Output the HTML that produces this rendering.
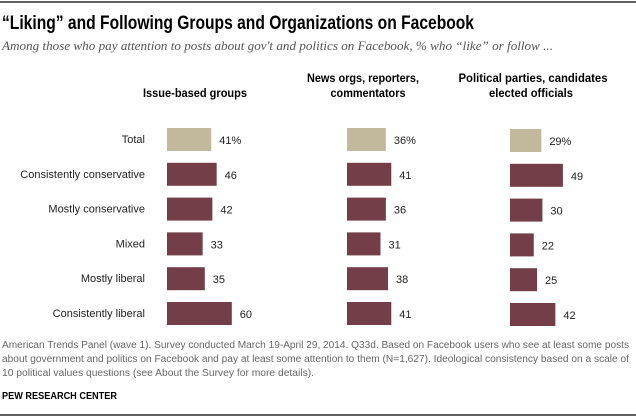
<!DOCTYPE html>
<html><head><meta charset="utf-8"><style>
html,body{margin:0;padding:0;background:#fff;}
svg{display:block;font-family:"Liberation Sans",sans-serif;}
</style></head><body>
<svg id="chart" width="636" height="418" viewBox="0 0 636 418">
<line x1="0" y1="2" x2="636" y2="2" stroke="#000" stroke-width="1.2"/>
<text x="2" y="29" font-size="19" font-weight="bold" textLength="472" lengthAdjust="spacingAndGlyphs">“Liking” and Following Groups and Organizations on Facebook</text>
<text x="2" y="50" font-size="13" font-style="italic" fill="#555" font-family="Liberation Serif, serif" textLength="551" lengthAdjust="spacingAndGlyphs">Among those who pay attention to posts about gov't and politics on Facebook, % who “like” or follow ...</text>
<g font-size="12" font-weight="bold" text-anchor="middle">
<text x="195" y="97" textLength="104" lengthAdjust="spacingAndGlyphs">Issue-based groups</text>
<text x="363" y="82" textLength="112" lengthAdjust="spacingAndGlyphs">News orgs, reporters,</text>
<text x="368" y="97" textLength="75" lengthAdjust="spacingAndGlyphs">commentators</text>
<text x="533" y="82" textLength="149" lengthAdjust="spacingAndGlyphs">Political parties, candidates</text>
<text x="531" y="97" textLength="84" lengthAdjust="spacingAndGlyphs">elected officials</text>
</g>
<g id="rows"></g>
<g font-size="10" fill="#666">
<text x="2" y="348" textLength="627" lengthAdjust="spacingAndGlyphs">American Trends Panel (wave 1). Survey conducted March 19-April 29, 2014. Q33d.  Based on Facebook users who see at least some posts</text>
<text x="2" y="362" textLength="627" lengthAdjust="spacingAndGlyphs">about government and politics on Facebook and pay at least some attention to them (N=1,627). Ideological consistency based on a scale of</text>
<text x="2" y="376" textLength="312" lengthAdjust="spacingAndGlyphs">10 political values questions (see About the Survey for more details).</text>
</g>
<text x="2" y="399" font-size="10" font-weight="bold" textLength="115" lengthAdjust="spacingAndGlyphs">PEW RESEARCH CENTER</text>
<line x1="0" y1="415" x2="636" y2="415" stroke="#000" stroke-width="1.2"/>
</svg>
<script>
const categories = ["Total","Consistently conservative","Mostly conservative","Mixed","Mostly liberal","Consistently liberal"];
const issueGroups = [41,46,42,33,35,60];
const newsOrgs = [36,41,36,31,38,41];
const politicalParties = [29,49,30,22,25,42];
const seriesNames = ["issue-groups","news-orgs","political-parties"];

const NS = "http://www.w3.org/2000/svg";
const g = document.getElementById("rows");
const scale = v => v * 1.08;
const rowY = i => 128 + i * 34.8;
const cols = [{x0:167, data:issueGroups, dy:0},{x0:347, data:newsOrgs, dy:0},{x0:510, data:politicalParties, dy:1}];
function mk(tag, attrs){const e=document.createElementNS(NS,tag);for(const k in attrs)e.setAttribute(k,attrs[k]);return e;}
categories.forEach((c,i)=>{
  const t = mk("text",{x:145,y:rowY(i)+15,"font-size":11,"text-anchor":"end",fill:"#222"});
  t.textContent = c;
  
  
  g.appendChild(t);
  cols.forEach((col,j)=>{
    const v = col.data[i];
    const y = rowY(i)+col.dy;
    const r = mk("rect",{x:col.x0,y:y,width:scale(v),height:23,fill:i===0?"#c2b99c":"#733e48"});
    
    
    g.appendChild(r);
    const l = mk("text",{x:col.x0+scale(v)+8,y:y+16,"font-size":11,fill:"#222"});
    l.textContent = v + (i===0?"%":"");
    
    
    g.appendChild(l);
  });
});
</script>
</body></html>
